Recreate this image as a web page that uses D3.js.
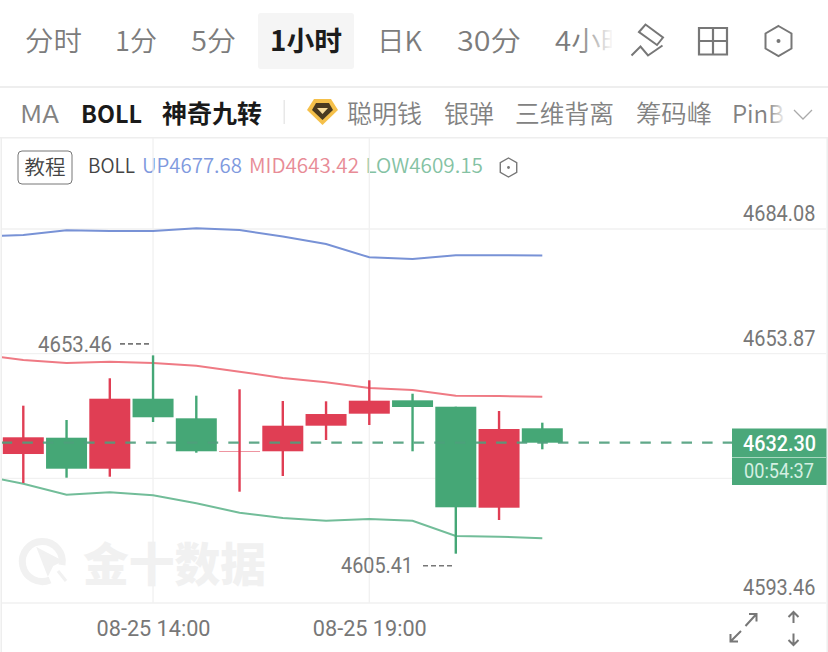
<!DOCTYPE html>
<html><head><meta charset="utf-8">
<script src="https://cdn.jsdelivr.net/npm/d3@7/dist/d3.min.js"></script>
<style>html,body{margin:0;padding:0;background:#fff;overflow:hidden}svg{display:block}</style>
</head><body><svg id="c" width="828" height="652"></svg>
<script>
// ---- data ----
const hours = ["08-25 10:00","08-25 11:00","08-25 12:00","08-25 13:00","08-25 14:00","08-25 15:00","08-25 16:00","08-25 17:00","08-25 18:00","08-25 19:00","08-25 20:00","08-25 21:00","08-25 22:00","08-25 23:00"];
const barHours = hours.slice(1);
const open  = [4629.56,4633.51,4626.00,4642.96,4638.21,4630.29,4630.22,4636.42,4639.33,4642.57,4641.02,4616.55,4635.79];
const close = [4633.61,4626.00,4642.96,4638.46,4630.22,4630.29,4636.42,4639.25,4642.48,4640.95,4616.65,4635.62,4632.30];
const high  = [4641.27,4637.80,4647.91,4653.46,4643.69,4645.24,4642.40,4642.33,4647.42,4644.17,4641.02,4639.98,4637.15];
const low   = [4622.54,4623.82,4624.06,4637.32,4629.88,4620.43,4624.23,4632.96,4636.59,4630.22,4605.41,4613.57,4630.70];
const bollUp  = [4682.26,4682.63,4683.77,4683.60,4683.60,4684.25,4683.84,4682.26,4680.45,4677.22,4676.81,4677.71,4677.71,4677.68];
const bollMid = [4653.65,4652.34,4651.61,4651.93,4651.61,4650.96,4649.50,4647.98,4646.94,4645.55,4645.07,4643.69,4643.62,4643.42];
const bollLow = [4624.47,4622.37,4619.70,4620.28,4619.56,4617.62,4615.34,4614.06,4613.40,4613.81,4613.40,4609.69,4609.52,4609.15];
const priceTicks = [4684.08,4653.87,4623.66,4593.46];
const priceLabels = ["4684.08","4653.87","","4593.46"];
const timeTicks = ["08-25 14:00","08-25 19:00"];
const lastPrice = 4632.30, countdown = "00:54:37";
const maxMark = 4653.46, minMark = 4605.41;
const periods = [["分时",25,82],["1分",115,157],["5分",191,236],["日K",377,422],["30分",457,521],["4小时",555,630]];
const indicators = [["MA",20,59],["聪明钱",347,422],["银弹",444,494],["三维背离",515,614],["筹码峰",636,712],["PinB",732,784]];

// ---- setup ----
const svg = d3.select("#c");
const CJK = "'Noto Sans CJK SC','Noto Sans',sans-serif";
const NUM = "Roboto,sans-serif";
const x = d3.scalePoint().domain(hours).range([-19.95,542.3]);
const y = d3.scaleLinear().domain([4593.46,4684.08]).range([603,229]);
const defs = svg.append("defs");
defs.append("clipPath").attr("id","plot").append("rect").attr("x",2).attr("y",138).attr("width",824).attr("height",465);
const g1 = defs.append("linearGradient").attr("id","fade");
g1.append("stop").attr("offset",0).attr("stop-color","#fff").attr("stop-opacity",0);
g1.append("stop").attr("offset",1).attr("stop-color","#fff").attr("stop-opacity",1);

function t(str,x0,x1,base,size,color,weight,font,parent){
  return (parent||svg).append("text").attr("x",x0).attr("y",base).attr("textLength",x1-x0).attr("lengthAdjust","spacingAndGlyphs")
    .attr("font-family",font||CJK).attr("font-size",size).attr("font-weight",weight||400).attr("fill",color).text(str);
}
function hex(cx,cy,r,sw,c){
  const pts=d3.range(6).map(i=>{const a=Math.PI/3*i-Math.PI/2;return [cx+r*Math.cos(a),cy+r*Math.sin(a)]});
  svg.append("polygon").attr("points",pts.join(" ")).attr("fill","none").attr("stroke",c).attr("stroke-width",sw);
  svg.append("circle").attr("cx",cx).attr("cy",cy).attr("r",sw*1.0).attr("fill",c);
}

// ---- toolbar row 1 ----
svg.append("rect").attr("x",258).attr("y",13).attr("width",96).attr("height",56).attr("rx",3).attr("fill","#f5f5f5");
periods.forEach(p=>t(p[0],p[1],p[2],51,27.5,"#7c7c7c",350));
t("1小时",270,342,51,27.5,"#1c1c1c",700);
svg.append("rect").attr("x",578).attr("y",10).attr("width",36).attr("height",62).attr("fill","url(#fade)");
svg.append("rect").attr("x",612).attr("y",10).attr("width",30).attr("height",62).attr("fill","#fff");
// pencil icon
svg.append("path").attr("d","M639 32 L645.5 24.5 L663 37.5 L657 45 Z M631.5 55.5 L640.5 46.5 L648 55.5 L662.5 45.5").attr("fill","none").attr("stroke","#777").attr("stroke-width",2);
// grid icon
svg.append("path").attr("d","M699 28 H727 V54.5 H699 Z M713 28 V54.5 M699 41 H727").attr("fill","none").attr("stroke","#777").attr("stroke-width",2.2);
hex(778.5,41,15,2,"#777");
svg.append("rect").attr("x",0).attr("y",86).attr("width",828).attr("height",2).attr("fill","#eeeeee");

// ---- toolbar row 2 ----
indicators.forEach(p=>t(p[0],p[1],p[2],122.5,24.5,"#828282",350));
t("BOLL",81,142,122.5,24,"#1a1a1a",700);
t("神奇九转",162,262,123,24.5,"#1a1a1a",700);
svg.append("rect").attr("x",283.5).attr("y",100).attr("width",1.5).attr("height",24).attr("fill","#e8e8e8");
svg.append("path").attr("d","M307 110 L314 99 H331 L338 110 L322.5 125 Z").attr("fill","#f5c04a");
svg.append("path").attr("d","M312 110 L316 103 H329 L333 110 L322.5 120 Z").attr("fill","#4a3a20");
svg.append("path").attr("d","M317 108 H328 L322.5 114 Z").attr("fill","#f8dc9a");
svg.append("rect").attr("x",768).attr("y",96).attr("width",18).attr("height",36).attr("fill","url(#fade)");
svg.append("path").attr("d","M794 110 L803 119 L812 110").attr("fill","none").attr("stroke","#aaa").attr("stroke-width",1.3);
svg.append("rect").attr("x",0).attr("y",137).attr("width",828).attr("height",1.5).attr("fill","#eeeeee");

// ---- legend row ----
svg.append("rect").attr("x",18).attr("y",151).attr("width",54).attr("height",33).attr("rx",4).attr("fill","none").attr("stroke","#777").attr("stroke-width",1);
t("教程",24.5,65.5,175,20,"#444",350);
t("BOLL",88,135,173,20,"#444",350);
t("UP4677.68",142,242,173,20,"#7f9ade",350);
t("MID4643.42",249,359,173,20,"#e88b96",350);
t("LOW4609.15",365.5,483,173,20,"#84c2a3",350);
hex(508.5,167.5,9.5,1.4,"#777");

// ---- frame & grid ----
svg.append("rect").attr("x",0.5).attr("y",138).attr("width",1.5).attr("height",514).attr("fill","#eeeeee");
svg.append("rect").attr("x",826.5).attr("y",138).attr("width",1.5).attr("height",514).attr("fill","#eeeeee");
svg.append("g").selectAll("line").data(priceTicks).join("line")
  .attr("x1",2).attr("x2",d=>d===4623.66?732:826).attr("y1",d=>y(d)).attr("y2",d=>y(d)).attr("stroke","#f1f1f1").attr("stroke-width",1.3);
svg.append("g").selectAll("line").data(timeTicks).join("line")
  .attr("x1",d=>x(d)).attr("x2",d=>x(d)).attr("y1",138).attr("y2",603).attr("stroke","#f1f1f1").attr("stroke-width",1.3);

// ---- watermark ----
const wm = svg.append("g").attr("transform","translate(2,-1)");
wm.append("path").attr("d","M60 566 A20 20 0 1 0 48 581").attr("fill","none").attr("stroke","#f1f1f1").attr("stroke-width",7);
wm.append("path").attr("d","M37 551 L58 562 L50 566 L46 574 Z M56 572 L64 582").attr("fill","#f1f1f1").attr("stroke","#f1f1f1").attr("stroke-width",3);
t("金十数据",81,264,582,46,"#f1f1f1",900,CJK,wm);

// ---- BOLL lines ----
const plot = svg.append("g").attr("clip-path","url(#plot)");
const line = d3.line().x((d,i)=>x(hours[i])).y(d=>y(d));
[[bollUp,"#7892d6"],[bollMid,"#ef7a84"],[bollLow,"#72bd99"]].forEach(([s,c])=>{
  plot.append("path").attr("d",line(s)).attr("fill","none").attr("stroke",c).attr("stroke-width",2);
});

// ---- candles ----
const RED="#e03e54", GREEN="#45a776";
const idx = d3.range(barHours.length);
const col = i=>close[i]>=open[i]?RED:GREEN;
const bw = 41;
plot.append("g").selectAll("line").data(idx).join("line")
  .attr("x1",i=>x(barHours[i])).attr("x2",i=>x(barHours[i])).attr("y1",i=>y(high[i])).attr("y2",i=>y(low[i]))
  .attr("stroke",col).attr("stroke-width",2.4);
plot.append("g").selectAll("rect").data(idx).join("rect")
  .attr("x",i=>x(barHours[i])-bw/2).attr("width",bw)
  .attr("y",i=>y(Math.max(open[i],close[i])))
  .attr("height",i=>Math.max(1,Math.abs(y(open[i])-y(close[i]))))
  .attr("fill",col).attr("fill-opacity",i=>open[i]===close[i]?0.55:1);

// ---- last price ----
plot.append("line").attr("x1",1.7).attr("x2",732).attr("y1",y(lastPrice)).attr("y2",y(lastPrice))
  .attr("stroke","#4f9f7c").attr("stroke-width",2.2).attr("stroke-dasharray","10.5 10.1").attr("stroke-opacity",0.9);
svg.append("rect").attr("x",732).attr("y",428.5).attr("width",94.5).attr("height",56.5).attr("fill","#4aa87a");
svg.append("line").attr("x1",732).attr("x2",826).attr("y1",457.5).attr("y2",457.5).attr("stroke","#a9d8c0").attr("stroke-width",1);
t(d3.format(".2f")(lastPrice),743,816,451,22,"#fff",500,NUM);
t(countdown,744,814,478,20,"#d4efe2",400,NUM);

// ---- high/low marks ----
const NC="#777";
t(d3.format(".2f")(maxMark),38,112,352,21.5,NC,400,NUM);
svg.append("line").attr("x1",120).attr("x2",150).attr("y1",y(maxMark)-11.5).attr("y2",y(maxMark)-11.5).attr("stroke",NC).attr("stroke-width",1.6).attr("stroke-dasharray","5 3");
t(d3.format(".2f")(minMark),341,413,572.5,21.5,NC,400,NUM);
svg.append("line").attr("x1",423).attr("x2",453).attr("y1",y(minMark)+12).attr("y2",y(minMark)+12).attr("stroke",NC).attr("stroke-width",1.6).attr("stroke-dasharray","5 3");

// ---- axes ----
const yAxis = d3.axisRight(y).tickValues(priceTicks).tickSize(0).tickFormat((d,i)=>priceLabels[i]);
const ya = svg.append("g").attr("transform","translate(743,0)").call(yAxis);
ya.select(".domain").remove();
ya.selectAll("text").attr("x",0).attr("dy",-8.3).attr("dominant-baseline","auto").attr("text-anchor","start")
  .attr("font-family",NUM).attr("font-size",21.5).attr("font-weight",400).attr("fill",NC)
  .attr("textLength",72.5).attr("lengthAdjust","spacingAndGlyphs");
const xAxis = d3.axisBottom(x).tickValues(timeTicks).tickSize(0);
const xa = svg.append("g").attr("transform","translate(0,603)").call(xAxis);
xa.select(".domain").remove();
xa.selectAll("text").attr("y",33).attr("dy",0).attr("font-family",NUM).attr("font-size",21.5).attr("font-weight",400).attr("fill",NC)
  .attr("textLength",114).attr("lengthAdjust","spacingAndGlyphs").attr("text-anchor","middle");

// ---- corner icons ----
svg.append("path").attr("d","M745.5 626 L755.5 615 M749 614 H756.5 V621.5 M741 631 L730.5 641.5 M730.5 634 V641.5 H738")
  .attr("fill","none").attr("stroke","#777").attr("stroke-width",2);
svg.append("path").attr("d","M793.5 623 V612 M788.5 617 L793.5 612 L798.5 617 M793.5 633.5 V645 M788.5 640 L793.5 645 L798.5 640")
  .attr("fill","none").attr("stroke","#777").attr("stroke-width",2);
</script></body></html>
